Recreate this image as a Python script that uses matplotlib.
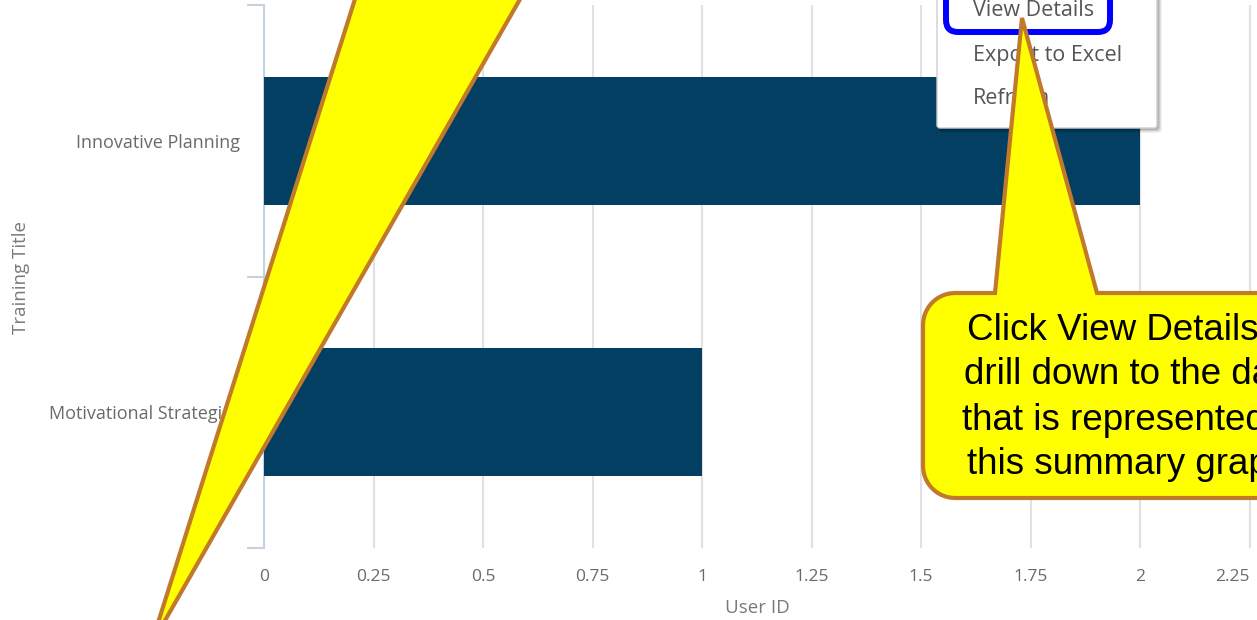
import numpy as np
import matplotlib
matplotlib.use("Agg")
import matplotlib.pyplot as plt
from matplotlib.patches import Polygon, FancyBboxPatch

# --- data -------------------------------------------------------------
categories = ["Motivational Strategies", "Innovative Planning"]
user_counts = [1, 2]
x_ticks = [0, 0.25, 0.5, 0.75, 1, 1.25, 1.5, 1.75, 2, 2.25]
x_tick_labels = ["0", "0.25", "0.5", "0.75", "1", "1.25", "1.5", "1.75", "2", "2.25"]
menu_items = ["View Details", "Export to Excel", "Refresh"]
callout_lines = ["Click View Details to", "drill down to the data",
                 "that is represented in", "this summary graph."]

W, H = 1257, 620
BAR_COLOR = "#023f62"
AXIS_LINE = "#c6d2e0"
GRID = "#e1e1e1"
TICK_TXT = "#6a6a6a"
TITLE_TXT = "#7a7a7a"
YELLOW = "#ffff00"
BROWN = "#c07a2a"
UI_FONT = ["Open Sans", "DejaVu Sans"]

fig = plt.figure(figsize=(W / 100, H / 100), dpi=100)
fig.patch.set_facecolor("white")

# --- bar chart ----------------------------------------------------------
left_px, right_px, top_px, bottom_px = 264, W, 5, 548
ax = fig.add_axes([left_px / W, 1 - bottom_px / H,
                   (right_px - left_px) / W, (bottom_px - top_px) / H])
ypos = np.arange(len(categories))
ax.barh(ypos, user_counts, height=0.47, color=BAR_COLOR, zorder=3)
ax.set_xlim(0, (right_px - left_px) / 438)
ax.set_ylim(-0.5, len(categories) - 0.5)

ax.set_xticks(x_ticks)
ax.set_xticklabels(x_tick_labels, fontsize=12.5, color=TICK_TXT, family=UI_FONT)
ax.tick_params(axis="x", length=0, pad=15)
# keep the last label inside the plot edge
ax.get_xticklabels()[-1].set_ha("right")
ax.grid(axis="x", color=GRID, linewidth=1.5, zorder=0)

ax.set_yticks(ypos)
ax.set_yticklabels(categories, fontsize=13, color=TICK_TXT, family=UI_FONT)
ax.tick_params(axis="y", which="major", length=0, pad=17)
ax.set_yticks([-0.5, 0.5, 1.5], minor=True)
ax.tick_params(axis="y", which="minor", length=12, width=1.5, color=AXIS_LINE)

for side in ("top", "right", "bottom"):
    ax.spines[side].set_visible(False)
ax.spines["left"].set_color(AXIS_LINE)
ax.spines["left"].set_linewidth(1.5)

ax.set_xlabel("User ID", fontsize=13.5, color=TITLE_TXT, family=UI_FONT)
ax.set_ylabel("Training Title", fontsize=13.5, color=TITLE_TXT, family=UI_FONT)
ax.xaxis.label.set_va("center")
ax.yaxis.label.set_va("center")
ax.xaxis.set_label_coords(757 / W, 1 - 608 / H, transform=fig.transFigure)
ax.yaxis.set_label_coords(21 / W, 1 - 277 / H, transform=fig.transFigure)

# --- overlay in pixel coordinates ----------------------------------------
ov = fig.add_axes([0, 0, 1, 1], zorder=10)
ov.set_xlim(0, W)
ov.set_ylim(H, 0)
ov.axis("off")
ov.patch.set_alpha(0)

# context menu with soft drop shadow
mx0, my0, mx1, my1 = 937, -20, 1157, 128
for i, a in enumerate([0.05, 0.07, 0.09, 0.12]):
    off = 5 - i
    ov.add_patch(FancyBboxPatch((mx0 + off - 2, my0), mx1 - mx0 + 2, my1 - my0 + off,
                                boxstyle="round,pad=0,rounding_size=4",
                                facecolor="black", edgecolor="none", alpha=a, zorder=1))
ov.add_patch(FancyBboxPatch((mx0, my0), mx1 - mx0, my1 - my0,
                            boxstyle="round,pad=0,rounding_size=3",
                            facecolor="white", edgecolor="#cfcfcf", linewidth=1, zorder=2))
for label, y in zip(menu_items, [10, 55, 98]):
    ov.text(973, y, label, fontsize=15.5, color="#555555", family=UI_FONT,
            ha="left", va="center", zorder=3)
# highlight around the first menu item
ov.add_patch(FancyBboxPatch((946, -30), 164, 62,
                            boxstyle="round,pad=0,rounding_size=12",
                            facecolor="none", edgecolor="#0000ff", linewidth=4.3, zorder=4))


def arc(cx, cy, r, a0, a1, n=12):
    t = np.radians(np.linspace(a0, a1, n))
    return list(zip(cx + r * np.cos(t), cy + r * np.sin(t)))


# speech callout pointing at the menu item
x0, y0, x1, y1, r = 923, 293, 1330, 498, 32
pts = [(x0 + r, y0), (995, y0), (1022, 18), (1097, y0), (x1 - r, y0)]
pts += arc(x1 - r, y0 + r, r, 270, 360)
pts += arc(x1 - r, y1 - r, r, 0, 90)
pts += arc(x0 + r, y1 - r, r, 90, 180)
pts += arc(x0 + r, y0 + r, r, 180, 270)
ov.add_patch(Polygon(pts, closed=True, facecolor=YELLOW, edgecolor=BROWN,
                     linewidth=3, joinstyle="miter", zorder=5))
for line, y in zip(callout_lines, [330, 375, 420, 465]):
    ov.text(1133, y, line, fontsize=26.5, color="black",
            family=["Liberation Sans", "DejaVu Sans"],
            ha="center", va="center", zorder=6)

# large pointer wedge from the lower left
ov.add_patch(Polygon([(361, -20), (531, -20), (151, 645)], closed=True,
                     facecolor=YELLOW, edgecolor=BROWN, linewidth=3,
                     joinstyle="miter", zorder=5))

fig.savefig("out.png", dpi=100, facecolor="white")
